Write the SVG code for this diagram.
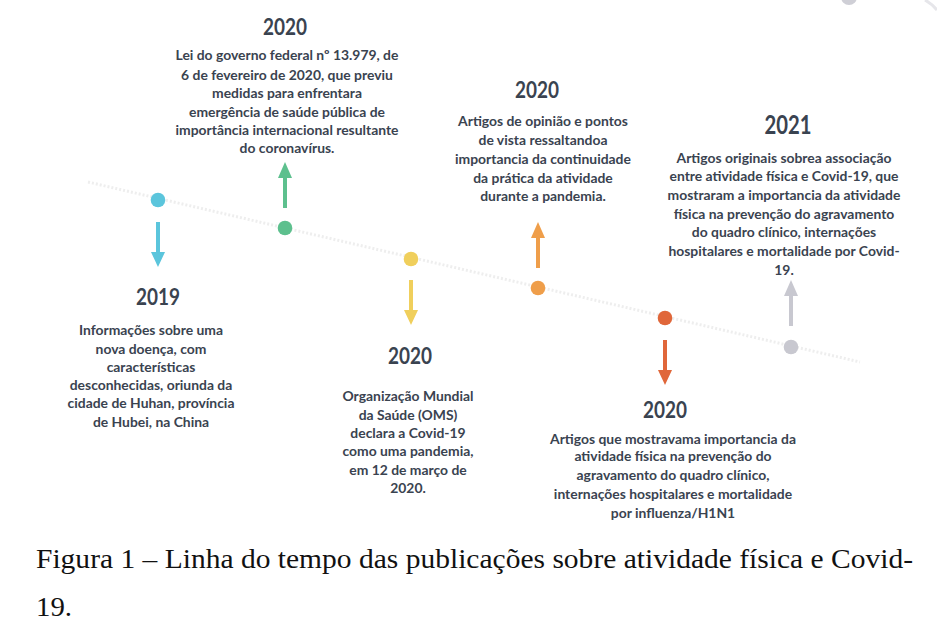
<svg xmlns="http://www.w3.org/2000/svg" width="937" height="644" viewBox="0 0 937 644">
<style>
.yr{font-family:Lato,"Open Sans","Liberation Sans",sans-serif;font-weight:700;fill:#3a4350;text-anchor:middle}
.tx{font-family:Lato,"Open Sans","Liberation Sans",sans-serif;font-weight:700;font-size:13.9px;fill:#3a4350;text-anchor:middle}
.cap{font-family:"Liberation Serif","DejaVu Serif",serif;font-size:28px;fill:#111}
</style>
<rect width="937" height="644" fill="#ffffff"/>
<g id="connectors">
<line x1="88" y1="182" x2="860" y2="362" stroke="#eeeeee" stroke-width="3" stroke-dasharray="2 2"/>
<circle cx="849" cy="-3" r="8" fill="#cfcfd6"/>
<path d="M925 0 Q932 4 937 10" stroke="#e6e6ea" stroke-width="3" fill="none"/>
</g>
<g id="n2019">
<circle cx="158" cy="200" r="7.3" fill="#5bc5dc"/>
<rect x="156" y="222" width="4" height="31" fill="#5bc5dc"/>
<polygon points="151,252 165,252 158,267" fill="#5bc5dc"/>
<text class="yr" x="158" y="305" font-size="23" textLength="44" lengthAdjust="spacingAndGlyphs">2019</text>
<text class="tx" x="151"><tspan x="151" y="335">Informações sobre uma</tspan><tspan x="151" y="354">nova doença, com</tspan><tspan x="151" y="372">características</tspan><tspan x="151" y="390">desconhecidas, oriunda da</tspan><tspan x="151" y="408">cidade de Huhan, província</tspan><tspan x="151" y="427">de Hubei, na China</tspan></text>
</g>
<g id="n2020a">
<circle cx="285" cy="228" r="7.3" fill="#5dc08e"/>
<rect x="283" y="177" width="4" height="31" fill="#5dc08e"/>
<polygon points="278,178 292,178 285,162" fill="#5dc08e"/>
<text class="yr" x="285" y="35" font-size="23" textLength="44" lengthAdjust="spacingAndGlyphs">2020</text>
<text class="tx"><tspan x="287" y="60">Lei do governo federal nº 13.979, de</tspan><tspan x="287" y="80">6 de fevereiro de 2020, que previu</tspan><tspan x="287" y="98">medidas para enfrentara</tspan><tspan x="287" y="117">emergência de saúde pública de</tspan><tspan x="287" y="135">importância internacional resultante</tspan><tspan x="287" y="153">do coronavírus.</tspan></text>
</g>
<g id="n2020b">
<circle cx="411" cy="259" r="7.3" fill="#f0cf5c"/>
<rect x="409" y="280" width="4" height="31" fill="#f0cf5c"/>
<polygon points="404,310 418,310 411,325" fill="#f0cf5c"/>
<text class="yr" x="410" y="364" font-size="23" textLength="44" lengthAdjust="spacingAndGlyphs">2020</text>
<text class="tx"><tspan x="408" y="401">Organização Mundial</tspan><tspan x="408" y="420">da Saúde (OMS)</tspan><tspan x="408" y="438">declara a Covid-19</tspan><tspan x="408" y="456">como uma pandemia,</tspan><tspan x="408" y="475">em 12 de março de</tspan><tspan x="408" y="493">2020.</tspan></text>
</g>
<g id="n2020c">
<circle cx="538" cy="288" r="7.3" fill="#ef9e4a"/>
<rect x="536" y="237" width="4" height="31" fill="#ef9e4a"/>
<polygon points="531,238 545,238 538,222" fill="#ef9e4a"/>
<text class="yr" x="537" y="98" font-size="23" textLength="44" lengthAdjust="spacingAndGlyphs">2020</text>
<text class="tx"><tspan x="543" y="126">Artigos de opinião e pontos</tspan><tspan x="543" y="145">de vista ressaltandoa</tspan><tspan x="543" y="164">importancia da continuidade</tspan><tspan x="543" y="183">da prática da atividade</tspan><tspan x="543" y="201">durante a pandemia.</tspan></text>
</g>
<g id="n2020d">
<circle cx="665" cy="318" r="7.3" fill="#e0673a"/>
<rect x="663" y="340" width="4" height="31" fill="#e0673a"/>
<polygon points="658,370 672,370 665,385" fill="#e0673a"/>
<text class="yr" x="665" y="418" font-size="23" textLength="44" lengthAdjust="spacingAndGlyphs">2020</text>
<text class="tx"><tspan x="673" y="444">Artigos que mostravama importancia da</tspan><tspan x="673" y="461">atividade física na prevenção do</tspan><tspan x="673" y="480">agravamento do quadro clínico,</tspan><tspan x="673" y="499">internações hospitalares e mortalidade</tspan><tspan x="673" y="518">por influenza/H1N1</tspan></text>
</g>
<g id="n2021">
<circle cx="791" cy="347" r="7.3" fill="#c8c8d0"/>
<rect x="789" y="296" width="4" height="30" fill="#c8c8d0"/>
<polygon points="784,296 798,296 791,280" fill="#c8c8d0"/>
<text class="yr" x="788" y="134" font-size="26" textLength="47" lengthAdjust="spacingAndGlyphs">2021</text>
<text class="tx"><tspan x="784" y="163">Artigos originais sobrea associação</tspan><tspan x="784" y="181">entre atividade física e Covid-19, que</tspan><tspan x="784" y="200">mostraram a importancia da atividade</tspan><tspan x="784" y="219">física na prevenção do agravamento</tspan><tspan x="784" y="237">do quadro clínico, internações</tspan><tspan x="784" y="256">hospitalares e mortalidade por Covid-</tspan><tspan x="784" y="275">19.</tspan></text>
</g>
<g id="caption">
<text class="cap" x="36" y="568" textLength="877" lengthAdjust="spacingAndGlyphs">Figura 1 – Linha do tempo das publicações sobre atividade física e Covid-</text>
<text class="cap" x="36" y="616" textLength="36" lengthAdjust="spacingAndGlyphs">19.</text>
</g>
</svg>
